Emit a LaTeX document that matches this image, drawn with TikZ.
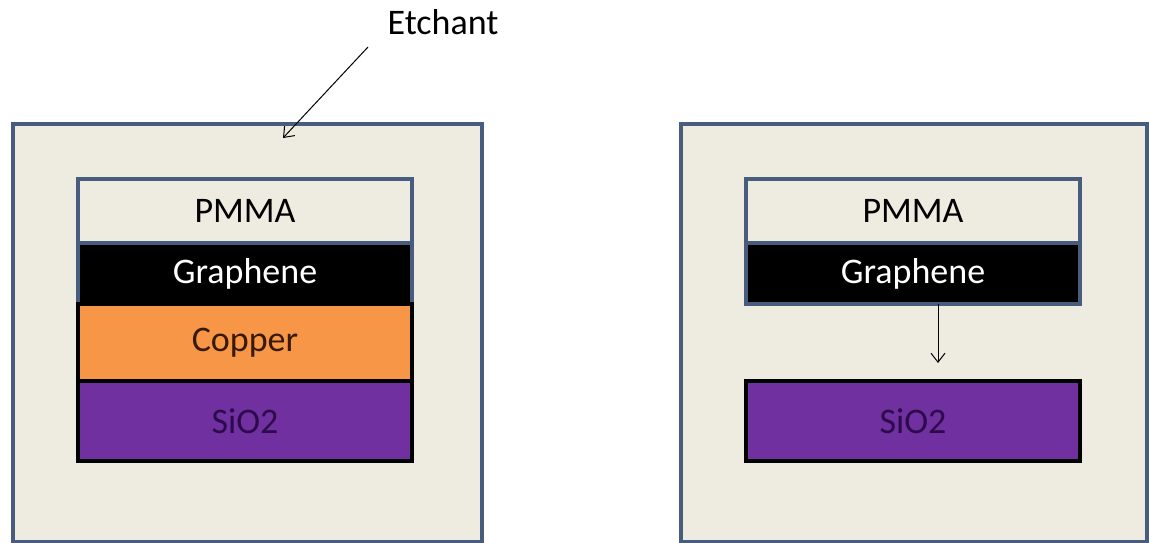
\documentclass[tikz,border=0pt]{standalone}
\usepackage{fontspec}
\setmainfont{Carlito}
\usetikzlibrary{positioning,arrows.meta}
\definecolor{mytan}{RGB}{238,236,225}
\definecolor{myframe}{RGB}{72,92,125}
\definecolor{myorange}{RGB}{247,150,70}
\definecolor{mypurple}{RGB}{112,48,160}
\definecolor{mydarkpurple}{RGB}{45,10,75}
\definecolor{mybrown}{RGB}{55,25,5}

\begin{document}
\begin{tikzpicture}[x=1pt,y=-1pt,
  font=\fontsize{36}{40}\selectfont,
  bath/.style={draw=myframe,fill=mytan,line width=4pt,minimum width=469pt,
    minimum height=418pt,anchor=north west,inner sep=0pt},
  layer/.style={line width=3.6pt,minimum width=334pt,inner sep=0pt,outer sep=0pt},
  pmma/.style={layer,draw=myframe,fill=mytan,minimum height=64pt},
  graph/.style={layer,draw=myframe,fill=black,text=white,minimum height=61pt},
  copper/.style={layer,draw=black,fill=myorange,text=mybrown,minimum height=77pt},
  oxide/.style={layer,draw=black,fill=mypurple,text=mydarkpurple,minimum height=80pt},
  thin/.style={line width=1pt,-{Straight Barb[length=9pt,width=14pt]}}]

  \useasboundingbox (0,0) rectangle (1149,543);

  % the two baths
  \node[bath] (bath1) at (11,122) {};
  \node[bath,minimum width=466pt] (bath2) at (679,122) {};

  % stack before etching
  \node[pmma,anchor=north west] (pmma1) at (78,179) {PMMA};
  \node[graph,below=0pt of pmma1] (gr1) {Graphene};
  \node[copper,below=0pt of gr1] (cu1) {Copper};
  \node[oxide,below=0pt of cu1] (sio1) {SiO2};

  % stack after etching
  \node[pmma,anchor=north west] (pmma2) at (746,179) {PMMA};
  \node[graph,below=0pt of pmma2] (gr2) {Graphene};
  \node[oxide,anchor=north west] (sio2) at (746,381) {SiO2};

  % etchant label and arrows
  \node (etch) at (443,22) {Etchant};
  \coordinate (etchstart) at (368,47);
  \coordinate (etchend) at (283,138);
  \draw[thin] (etchstart) -- (etchend);

  \coordinate (dropstart) at ([xshift=25pt]gr2.south);
  \coordinate (dropend) at (938,363);
  \draw[thin] (dropstart) -- (dropend);

\end{tikzpicture}
\end{document}
